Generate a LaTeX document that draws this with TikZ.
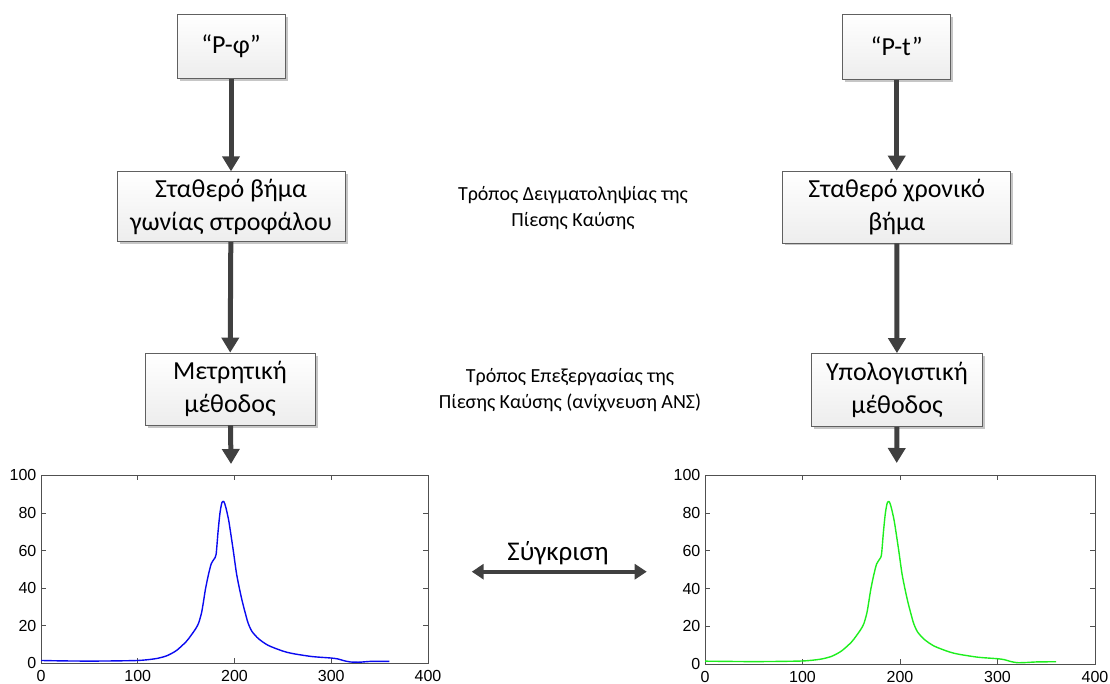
\documentclass[tikz,border=0pt]{standalone}
\usepackage{fontspec}
\setmainfont{Carlito}
\newfontfamily\axisfont{Liberation Sans}
\usetikzlibrary{arrows.meta,shadows}
\definecolor{darkarrow}{HTML}{404040}
\definecolor{framegray}{HTML}{505050}
\definecolor{plotblue}{HTML}{0A0AF0}
\definecolor{plotgreen}{HTML}{1EEE1E}
\begin{document}
\begin{tikzpicture}[x=1pt,y=-1pt,
  box/.style={draw=gray!75!black, line width=0.7pt, top color=white, bottom color=gray!14,
    drop shadow={shadow xshift=2.5pt,shadow yshift=-2.5pt,fill=gray!45,opacity=1},
    align=center, inner sep=0pt, font=\fontsize{26}{33}\selectfont},
  flow/.style={line width=5pt, draw=darkarrow, -{Triangle[width=17pt,length=15pt]}},
  midtext/.style={align=center, inner sep=0pt, font=\fontsize{20}{26}\selectfont},
  frame/.style={draw=framegray, line width=0.8pt},
  tick/.style={draw=framegray, line width=0.7pt},
  ticklabel/.style={inner sep=0pt, font=\axisfont\fontsize{16}{16}\selectfont},
  curve/.style={line width=1.4pt, line join=round}
]
\useasboundingbox (0,0) rectangle (1110,684);

% left column
\node[box, minimum width=108pt, minimum height=64pt] (pf) at (231,46.3) {“P-φ”};
\node[box, minimum width=228pt, minimum height=70pt] (sb) at (231,206.7) {Σταθερό βήμα\\γωνίας στροφάλου};
\node[box, minimum width=170pt, minimum height=72pt] (mm) at (230,389) {Μετρητική\\μέθοδος};
\coordinate (lp) at (231,464);

% right column
\node[box, minimum width=108pt, minimum height=65pt] (pt) at (896.7,46.7) {“P-t”};
\node[box, minimum width=228pt, minimum height=72pt] (sx) at (896.7,207) {Σταθερό χρονικό\\βήμα};
\node[box, minimum width=171pt, minimum height=73pt] (ym) at (897,390) {Υπολογιστική\\μέθοδος};
\coordinate (rp) at (896.7,463);

\draw[flow] (pf) -- (sb);
\draw[flow] (sb) -- (mm);
\draw[flow] (mm) -- (lp);
\draw[flow] (pt) -- (sx);
\draw[flow] (sx) -- (ym);
\draw[flow] (ym) -- (rp);

% middle texts
\node[midtext] (t1) at (573,208) {Τρόπος Δειγματοληψίας της\\Πίεσης Καύσης};
\node[midtext] (t2) at (570,390) {Τρόπος Επεξεργασίας της\\Πίεσης Καύσης (ανίχνευση ΑΝΣ)};

% comparison
\node[inner sep=0pt, anchor=base, font=\fontsize{27}{30}\selectfont] (cmp) at (558,560) {Σύγκριση};
\coordinate (cl) at (471.7,571.7);
\coordinate (cr) at (646.7,571.7);
\draw[line width=4pt, draw=darkarrow, {Triangle[width=15pt,length=12pt]}-{Triangle[width=15pt,length=12pt]}] (cl) -- (cr);

% left plot
\begin{scope}[shift={(41,663.3)}, x=0.9675pt, y=1.88pt]
  \draw[frame] (0,0) rectangle (400,100);
  \foreach \t in {100,200,300} {
    \draw[tick] (\t,0) -- ++(0,2.7);
    \draw[tick] (\t,100) -- ++(0,-2.7);
  }
  \foreach \t in {20,40,60,80} {
    \draw[tick] (0,\t) -- ++(5,0);
    \draw[tick] (400,\t) -- ++(-5,0);
  }
  \foreach \t in {0,100,200,300,400} {
    \node[ticklabel, anchor=base] (lx\t) at (\t,0) [yshift=-18.5pt] {\t};
  }
  \foreach \t in {0,20,40,60,80,100} {
    \node[ticklabel, anchor=east] (ly\t) at (0,\t) [xshift=-4.5pt] {\t};
  }
  \draw[curve, plotblue] plot[smooth, tension=0.45] coordinates {
    (0,1.5) (20,1.3) (40,1.2) (60,1.2) (80,1.3) (100,1.5) (110,1.9) (120,2.6) (130,4)
    (140,6.8) (150,11.5) (155,14.8) (160,18.5) (163,21.5) (166,27) (168,33) (170,39.5)
    (173,47) (176,53) (179,55.5) (181,58) (183,70) (185,80) (187,85.5) (189,86)
    (191,83) (194,76) (197,66) (199,59) (202,48) (205,40) (208,33) (211,27) (214,21.5)
    (218,17) (225,13) (235,9.5) (250,6.5) (260,5.2) (280,3.6) (300,2.8) (307,2.3)
    (313,1.4) (320,0.7) (330,0.6) (340,1) (360,1)};
\end{scope}

% right plot
\begin{scope}[shift={(705,664)}, x=0.975pt, y=1.887pt]
  \draw[frame] (0,0) rectangle (400,100);
  \foreach \t in {100,200,300} {
    \draw[tick] (\t,0) -- ++(0,2.7);
    \draw[tick] (\t,100) -- ++(0,-2.7);
  }
  \foreach \t in {20,40,60,80} {
    \draw[tick] (0,\t) -- ++(5,0);
    \draw[tick] (400,\t) -- ++(-5,0);
  }
  \foreach \t in {0,100,200,300,400} {
    \node[ticklabel, anchor=base] (rx\t) at (\t,0) [yshift=-18.5pt] {\t};
  }
  \foreach \t in {0,20,40,60,80,100} {
    \node[ticklabel, anchor=east] (ry\t) at (0,\t) [xshift=-4.5pt] {\t};
  }
  \draw[curve, plotgreen] plot[smooth, tension=0.45] coordinates {
    (0,1.5) (20,1.4) (40,1.3) (60,1.3) (80,1.4) (100,1.6) (110,2) (120,2.7) (130,4.1)
    (140,6.9) (150,11.5) (155,14.8) (160,18.5) (163,21.5) (166,27) (168,33) (170,39.5)
    (173,47) (176,53) (179,55.5) (181,58) (183,70) (185,80) (187,85.5) (189,86)
    (191,83) (194,76) (197,66) (199,59) (202,48) (205,40) (208,33) (211,27) (214,21.5)
    (218,17) (225,13) (235,9.5) (250,6.5) (260,5.2) (280,3.6) (300,2.8) (307,2.3)
    (313,1.4) (320,0.7) (330,0.8) (340,1.1) (360,1.2)};
\end{scope}
\end{tikzpicture}
\end{document}
